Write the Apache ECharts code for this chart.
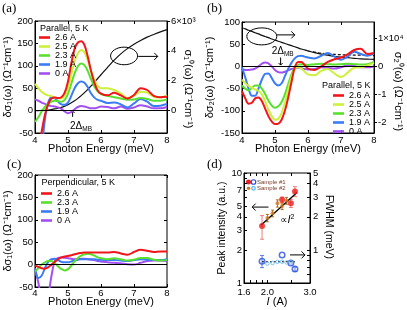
<!DOCTYPE html>
<html>
<head>
<meta charset="utf-8">
<script src="https://cdn.jsdelivr.net/npm/echarts@6.0.0/dist/echarts.min.js"></script>
<style>
html,body{margin:0;padding:0;background:#fff;}
#chart{width:407px;height:310px;}
</style>
</head>
<body>
<div id="chart"></div>
<script>
// ---------- data ----------
const energy = [4.0,4.1,4.2,4.3,4.4,4.5,4.6,4.7,4.8,4.9,5.0,5.1,5.2,5.3,5.4,5.5,5.6,5.7,5.8,5.9,6.0,6.2,6.4,6.6,6.8,7.0,7.2,7.4,7.6,7.8,8.0];
const currents = ['2.6 A','2.5 A','2.3 A','1.9 A','0 A'];

// (a) delta sigma1, parallel
const aRed    = [-130,-90,-48,-10,15,27,29,28,30,40,65,105,138,152,155,146,120,88,62,45,38,34,40,34,27,35,50,46,33,30,31];
const aLime   = [60,50,42,37,34,32,29,27,27,33,50,80,110,128,135,130,112,88,68,55,50,50,46,38,28,33,42,40,31,29,34];
const aGreen  = [-25,-15,-2,8,15,20,22,21,20,24,38,60,83,99,105,101,88,70,54,43,37,33,30,27,24,25,28,26,22,22,25];
const aBlue   = [-160,-130,-90,-20,18,30,28,20,14,13,18,33,50,61,65,62,52,38,29,24,22,17,18,14,7,16,26,20,10,11,15];
const aPurple = [25,22,18,15,12,10,9,7,4,-2,-6,-3,3,8,10,9,7,5,5,7,9,8,5,9,4,7,12,9,5,5,8];
const aSigma1 = [0,0,0.01,0.02,0.04,0.07,0.11,0.16,0.22,0.3,0.4,0.52,0.66,0.82,1.0,1.2,1.42,1.65,1.9,2.15,2.4,2.9,3.38,3.8,4.15,4.45,4.7,4.92,5.1,5.27,5.42]; // x10^3
const aRightLabels = [0,2,4,6];

// (b) delta sigma2, parallel
const bRed    = [-56,-72,-84,-82,-72,-70,-78,-95,-112,-124,-130,-129,-120,-100,-70,-35,-2,10,10,3,-5,-8,0,10,16,20,27,37,40,28,30];
const bLime   = [-30,-38,-44,-48,-52,-55,-63,-78,-97,-112,-120,-118,-105,-82,-52,-24,-6,-2,-5,-12,-18,-20,-10,-6,-16,-24,-14,-3,-2,2,8];
const bGreen  = [-43,-50,-54,-48,-43,-43,-50,-62,-77,-88,-93,-90,-80,-63,-40,-18,-2,4,5,4,3,5,6,5,4,5,6,5,4,5,10];
const bBlue   = [-2,-25,-50,-66,-66,-50,-30,-17,-16,-26,-38,-43,-38,-22,-5,8,18,23,24,22,20,18,24,30,22,15,22,33,28,24,30];
const bPurple = [-7,-8,-8,-7,-5,0,6,9,7,0,-8,-13,-14,-12,-9,-6,-4,-3,-4,-6,-7,-6,-2,-3,-5,-2,2,1,-2,-2,0];
const bSigma2 = [1.38,1.34,1.29,1.25,1.2,1.16,1.11,1.07,1.03,0.98,0.94,0.9,0.86,0.82,0.78,0.74,0.7,0.66,0.62,0.59,0.55,0.49,0.44,0.4,0.36,0.33,0.31,0.29,0.27,0.26,0.25]; // x10^4
const bDashE = [6.0,6.4,6.8,7.2,7.6,8.0];
const bDashSigma2 = [0.55,0.47,0.43,0.41,0.4,0.39];
const bRightLabels = [-2,-1,0,1];

// (c) delta sigma1, perpendicular
const cRed    = [-2,-5,-8,-9,-6,0,6,12,16,18,19,21,23,25,26,27,27,27,27,27,27,27,28,25,22,28,33,31,28,29,29];
const cGreen  = [-16,-8,0,5,8,8,3,-4,-10,-13,-10,-2,7,15,20,23,24,23,20,16,14,12,14,12,9,11,15,15,11,9,10];
const cBlue   = [-10,-30,-25,-8,6,12,13,10,6,5,5,7,9,11,12,12,12,12,12,11,11,10,10,9,8,10,12,11,10,10,12];
const cPurple = [-8,-40,-80,-95,-70,-25,8,15,16,15,14,13,12,12,13,13,12,11,10,8,7,5,4,3,1,0,4,8,9,9,8];

// (d) peak intensity and FWHM vs current
const dI1 = [1.9,2.3,2.5,2.6];
const dPeak1 = [3.3,5.7,5.3,6.8];
const dPeakErr1 = [0.8,0.35,0.45,0.7];
const dFwhm1 = [0.79,0.9,0.76,0.67];
const dFwhmErr1 = [0.1,0.0,0.0,0.03];
const dI2 = [2.0,2.1,2.2,2.3,2.4];
const dPeak2 = [3.9,4.3,5.3,5.0,5.6];
const dPeakErr2 = [0.3,0.3,0.4,0.35,0.4];
const dI2f = [2.0,2.1,2.2,2.3,2.4,2.5];
const dFwhm2 = [0.75,0.76,0.78,0.78,0.77,0.77];
const dFitI = [1.88,2.65];
const dFitPeak = [3.35,6.65];
const dAvgI = [1.9,2.6];
const dAvgFwhm = [0.78,0.78];
const dXTicks = [1.6,1.7,1.8,1.9,2.0,2.5,3.0];
const dXLabels = [1.6,2.0,3.0];
const dLeftTicks = [1,2,3,4,5,6,7,8,9,10];
const dLeftLabels = [1,2,3,4,5,7,10];
const dRightTicks = [0.5,0.6,0.7,0.8,0.9,1,2,3,4,5];
const dRightLabels = [1,2,3,4,5];

// ---------- styling ----------
const FONT = 'Liberation Sans';
const COL = {'2.6 A':'#f0161a','2.5 A':'#cdf03c','2.3 A':'#58e02e','1.9 A':'#3a7cf6','0 A':'#a250f2'};
const lg = Math.log10;

function curve(name, xi, yi, xs, ys, color, width, type) {
  return {
    type:'line', name, xAxisIndex:xi, yAxisIndex:yi,
    data: xs.map((x,i)=>[x, ys[i]]),
    showSymbol:false, symbol:'none', smooth:0.35, clip:true, silent:true,
    lineStyle:{color, width, type: type || 'solid'}, itemStyle:{color},
    emphasis:{disabled:true}, z: 3
  };
}
function zeroLine(s) {
  s.markLine = {silent:true, symbol:'none', label:{show:false},
    lineStyle:{color:'#000', width:1, type:'solid'}, data:[{yAxis:0}], animation:false};
  return s;
}
const tickStyle = {color:'#000', width:1};
const labelStyle = (margin) => ({fontFamily:FONT, fontSize:9.5, color:'#000', margin});
const nameStyle = {fontFamily:FONT, fontSize:11, color:'#000'};

function xBottom(grid, margin, gap) {
  return {type:'value', gridIndex:grid, position:'bottom', min:4, max:8, interval:1,
    name:'Photon Energy (meV)', nameLocation:'middle', nameGap:gap, nameTextStyle:nameStyle, nameMoveOverlap:false,
    axisLine:{show:true, onZero:false, lineStyle:tickStyle},
    axisTick:{show:true, inside:true, length:3, lineStyle:tickStyle},
    axisLabel:labelStyle(margin), splitLine:{show:false}};
}
function xTop(grid) {
  return {type:'value', gridIndex:grid, position:'top', min:4, max:8, interval:1,
    axisLine:{show:false, onZero:false}, axisTick:{show:true, inside:true, length:3, lineStyle:tickStyle},
    axisLabel:{show:false}, splitLine:{show:false}};
}
function yLeft(grid, min, max, name, gap) {
  return {type:'value', gridIndex:grid, position:'left', min, max, interval:50,
    name, nameLocation:'middle', nameGap:gap, nameTextStyle:nameStyle, nameMoveOverlap:false,
    axisLine:{show:true, onZero:false, lineStyle:tickStyle},
    axisTick:{show:true, inside:true, length:3, lineStyle:tickStyle},
    axisLabel:labelStyle(2), splitLine:{show:false}};
}

// ---------- grids ----------
const gridBase = {show:true, borderColor:'#000', borderWidth:1, backgroundColor:'transparent', containLabel:false, outerBoundsMode:'none'};
const grids = [
  Object.assign({left:35, top:21, width:132, height:112}, gridBase),
  Object.assign({left:242, top:22, width:132, height:111}, gridBase),
  Object.assign({left:35, top:175, width:132, height:112}, gridBase),
  Object.assign({left:244, top:173, width:66, height:110}, gridBase)
];

const xAxes = [
  xBottom(0, 2.5, 10), xTop(0),
  xBottom(1, 2.5, 10), xTop(1),
  xBottom(2, 1.5, 9), xTop(2),
  {type:'value', gridIndex:3, position:'bottom', min:lg(1.6), max:lg(3.0),
    name:'{i|I} (A)', nameLocation:'middle', nameGap:13, nameMoveOverlap:false,
    nameTextStyle:{fontFamily:FONT, fontSize:11, color:'#000', rich:{i:{fontFamily:FONT, fontSize:11, fontStyle:'italic', color:'#000'}}},
    axisLine:{show:true, onZero:false, lineStyle:tickStyle},
    axisTick:{show:true, inside:true, length:3, lineStyle:tickStyle, customValues:dXTicks.map(lg)},
    axisLabel:Object.assign(labelStyle(4), {customValues:dXLabels.map(lg), formatter:v=>Math.pow(10,v).toFixed(1)}),
    splitLine:{show:false}},
  {type:'value', gridIndex:3, position:'top', min:lg(1.6), max:lg(3.0),
    axisLine:{show:false, onZero:false},
    axisTick:{show:true, inside:true, length:3, lineStyle:tickStyle, customValues:dXTicks.map(lg)},
    axisLabel:{show:false}, splitLine:{show:false}}
];

const yAxes = [
  yLeft(0, -50, 200, 'δσ₁(ω) (Ω⁻¹cm⁻¹)', 22),
  {type:'value', gridIndex:0, position:'right', min:-1.5, max:6,
    axisLine:{show:true, onZero:false, lineStyle:tickStyle},
    axisTick:{show:true, inside:false, length:3, lineStyle:tickStyle, customValues:aRightLabels},
    axisLabel:Object.assign(labelStyle(4), {customValues:aRightLabels, formatter:v=> v===6 ? '6×10³' : String(v)}),
    splitLine:{show:false}},
  yLeft(1, -150, 100, 'δσ₂(ω) (Ω⁻¹cm⁻¹)', 27),
  {type:'value', gridIndex:1, position:'right', min:-150*0.01586, max:100*0.01586,
    axisLine:{show:true, onZero:false, lineStyle:tickStyle},
    axisTick:{show:true, inside:false, length:3, lineStyle:tickStyle, customValues:bRightLabels},
    axisLabel:Object.assign(labelStyle(4), {customValues:bRightLabels, formatter:v=> v===1 ? '1×10⁴' : String(v)}),
    splitLine:{show:false}},
  yLeft(2, -50, 200, 'δσ₁(ω) (Ω⁻¹cm⁻¹)', 22),
  {type:'value', gridIndex:2, position:'right', min:-50, max:200, interval:50,
    axisLine:{show:false, onZero:false}, axisTick:{show:true, inside:true, length:3, lineStyle:tickStyle},
    axisLabel:{show:false}, splitLine:{show:false}},
  {type:'value', gridIndex:3, position:'left', min:0, max:1,
    name:'Peak intensity (a.u.)', nameLocation:'middle', nameGap:16, nameMoveOverlap:false,
    nameTextStyle:Object.assign({}, nameStyle, {fontSize:10.5}),
    axisLine:{show:true, onZero:false, lineStyle:tickStyle},
    axisTick:{show:true, inside:true, length:3, lineStyle:tickStyle, customValues:dLeftTicks.map(lg)},
    axisLabel:Object.assign(labelStyle(2), {customValues:dLeftLabels.map(lg), formatter:v=>String(Math.round(Math.pow(10,v)))}),
    splitLine:{show:false}},
  {type:'value', gridIndex:3, position:'right', min:lg(0.5), max:lg(5),
    axisLine:{show:true, onZero:false, lineStyle:tickStyle},
    axisTick:{show:true, inside:true, length:3, lineStyle:tickStyle, customValues:dRightTicks.map(lg)},
    axisLabel:Object.assign(labelStyle(3), {customValues:dRightLabels.map(lg), formatter:v=>String(Math.round(Math.pow(10,v)))}),
    splitLine:{show:false}}
];

// ---------- series ----------
const series = [];
// (a)
series.push(zeroLine(curve('σ1 normal', 0, 1, energy, aSigma1, '#111', 1.2)));
series.push(curve('0 A', 0, 0, energy, aPurple, COL['0 A'], 2));
series.push(curve('1.9 A', 0, 0, energy, aBlue, COL['1.9 A'], 2));
series.push(curve('2.3 A', 0, 0, energy, aGreen, COL['2.3 A'], 2));
series.push(curve('2.5 A', 0, 0, energy, aLime, COL['2.5 A'], 2));
series.push(curve('2.6 A', 0, 0, energy, aRed, COL['2.6 A'], 2));
// (b)
series.push(zeroLine(curve('σ2 normal', 2, 3, energy, bSigma2, '#111', 1.2)));
series.push(curve('σ2 model', 2, 3, bDashE, bDashSigma2, '#111', 1.2, [3,2]));
series.push(curve('0 A', 2, 2, energy, bPurple, COL['0 A'], 2));
series.push(curve('1.9 A', 2, 2, energy, bBlue, COL['1.9 A'], 2));
series.push(curve('2.3 A', 2, 2, energy, bGreen, COL['2.3 A'], 2));
series.push(curve('2.5 A', 2, 2, energy, bLime, COL['2.5 A'], 2));
series.push(curve('2.6 A', 2, 2, energy, bRed, COL['2.6 A'], 2));
// (c)
series.push(zeroLine(curve('0 A', 4, 4, energy, cPurple, COL['0 A'], 2)));
series.push(curve('1.9 A', 4, 4, energy, cBlue, COL['1.9 A'], 2));
series.push(curve('2.3 A', 4, 4, energy, cGreen, COL['2.3 A'], 2));
series.push(curve('2.6 A', 4, 4, energy, cRed, COL['2.6 A'], 2));

// (d)
function errBars(name, yi, xs, ys, es, color, capW) {
  return {type:'custom', name, xAxisIndex:6, yAxisIndex:yi, silent:true, z:2,
    data: xs.map((x,i)=>[lg(x), lg(ys[i]-es[i]), lg(ys[i]+es[i])]).filter((d,i)=>es[i]>0),
    encode:{x:0, y:[1,2]},
    renderItem(params, api) {
      const lo = api.coord([api.value(0), api.value(1)]);
      const hi = api.coord([api.value(0), api.value(2)]);
      const st = {stroke:color, lineWidth:1, fill:null};
      return {type:'group', children:[
        {type:'line', shape:{x1:lo[0], y1:lo[1], x2:hi[0], y2:hi[1]}, style:st},
        {type:'line', shape:{x1:lo[0]-capW, y1:lo[1], x2:lo[0]+capW, y2:lo[1]}, style:st},
        {type:'line', shape:{x1:hi[0]-capW, y1:hi[1], x2:hi[0]+capW, y2:hi[1]}, style:st}
      ]};
    }};
}
function pts(name, yi, xs, ys, symbolSize, fill, stroke, bw) {
  return {type:'scatter', name, xAxisIndex:6, yAxisIndex:yi, silent:true, z:4,
    data: xs.map((x,i)=>[lg(x), lg(ys[i])]), symbol:'circle', symbolSize,
    itemStyle:{color:fill, borderColor:stroke, borderWidth:bw}};
}
series.push(errBars('err1', 6, dI1, dPeak1, dPeakErr1, '#f07a7a', 2));
series.push(errBars('err2', 6, dI2, dPeak2, dPeakErr2, '#b0701e', 1.5));
series.push(errBars('errf1', 7, dI1, dFwhm1, dFwhmErr1, '#5a7cf0', 2));
series.push({type:'line', name:'fit', xAxisIndex:6, yAxisIndex:6, silent:true, z:3, symbol:'none',
  data: dFitI.map((x,i)=>[lg(x), lg(dFitPeak[i])]), lineStyle:{color:'#000', width:1.3}});
series.push({type:'line', name:'avg', xAxisIndex:6, yAxisIndex:7, silent:true, z:3, symbol:'none',
  data: dAvgI.map((x,i)=>[lg(x), lg(dAvgFwhm[i])]), lineStyle:{color:'#000', width:1, type:[2,2]}});
series.push(pts('Sample #1', 6, dI1, dPeak1, 6, '#ee1c1c', '#ee1c1c', 0));
series.push(pts('Sample #2', 6, dI2, dPeak2, 4, '#cf7a1c', '#cf7a1c', 0));
series.push(pts('FWHM #1', 7, dI1, dFwhm1, 5.5, 'rgba(255,255,255,0)', '#2a4fe0', 1.5));
series.push(pts('FWHM #2', 7, dI2f, dFwhm2, 3.5, 'rgba(255,255,255,0)', '#5ab4f0', 1));

// ---------- legends & titles ----------
function legend(left, top, data, rowH) {
  return {left, top, orient:'vertical', data, icon:'rect', itemWidth:11, itemHeight:2.6, itemGap:0,
    padding:0, selectedMode:false,
    textStyle:{fontFamily:FONT, fontSize:9, color:'#000', lineHeight:rowH}};
}
function ttl(text, left, top, serif) {
  return {text, left, top, padding:0,
    textStyle: serif ? {fontFamily:'Liberation Serif', fontSize:13, fontWeight:'normal', color:'#000'}
                     : {fontFamily:FONT, fontSize:9, fontWeight:'normal', color:'#000', lineHeight:10}};
}

const option = {
  animation:false,
  backgroundColor:'#fff',
  title:[
    ttl('(a)', 2, 2, true), ttl('(b)', 207, 2, true), ttl('(c)', 7, 158, true), ttl('(d)', 207, 158, true),
    ttl('Parallel, 5 K', 40, 24), ttl('Parallel, 5 K', 322, 80.5), ttl('Perpendicular, 5 K', 41.5, 178)
  ],
  legend:[
    legend(39, 33, currents, 8.5),
    legend(333, 91, currents, 8.2),
    legend(41, 189, ['2.6 A','2.3 A','1.9 A','0 A'], 9)
  ],
  grid: grids,
  xAxis: xAxes,
  yAxis: yAxes,
  series
};

const chart = echarts.init(document.getElementById('chart'), null, {renderer:'canvas'});
chart.setOption(option);

// ---------- annotations (placed in data coordinates) ----------
const P = (xi, yi, v) => chart.convertToPixel({xAxisIndex:xi, yAxisIndex:yi}, v);
const g = [];
const stroke = {stroke:'#000', fill:null, lineWidth:1};
function arrow(p1, p2, s) {
  const dx = p2[0]-p1[0], dy = p2[1]-p1[1], L = Math.hypot(dx, dy), ux = dx/L, uy = dy/L;
  const bx = p2[0]-ux*s, by = p2[1]-uy*s;
  g.push({type:'line', silent:true, shape:{x1:p1[0], y1:p1[1], x2:p2[0], y2:p2[1]}, style:stroke});
  g.push({type:'polyline', silent:true, shape:{points:[[bx-uy*s, by+ux*s],[p2[0],p2[1]],[bx+uy*s, by-ux*s]]}, style:stroke});
}
function ellipse(c, rx, ry) {
  g.push({type:'ellipse', silent:true, shape:{cx:c[0], cy:c[1], rx, ry}, style:stroke});
}
function deltaText(p) {
  g.push({type:'text', silent:true, x:p[0], y:p[1], style:{
    text:'{a|2Δ}{b|MB}', align:'left', verticalAlign:'middle',
    rich:{a:{fontFamily:FONT, fontSize:10, fill:'#000', lineHeight:12},
          b:{fontFamily:FONT, fontSize:6.5, fill:'#000', lineHeight:7, verticalAlign:'bottom'}}}});
}
// right-axis names, reading top to bottom
function rightName(gi, gap, dy, text, fs) {
  const gr = grids[gi];
  g.push({type:'text', silent:true, x:gr.left + gr.width + gap, y:gr.top + gr.height/2 + dy, rotation:-Math.PI/2,
    style:{text, fontFamily:FONT, fontSize:fs, fill:'#000', align:'center', verticalAlign:'middle'}});
}
rightName(0, 21, 12, 'σ₁⁰(ω) (Ω⁻¹cm⁻¹)', 11);
rightName(1, 24.5, 14, 'σ₂⁰(ω) (Ω⁻¹cm⁻¹)', 11);
rightName(3, 18.5, -1, 'FWHM (meV)', 10.5);
// (a)
ellipse(P(0,0,[6.70,122]), 13.5, 8.8);
arrow(P(0,0,[7.13,121]), P(0,0,[7.72,121]), 3.5);
arrow(P(0,0,[5.14,-14]), P(0,0,[5.14,-1]), 2);
deltaText(P(0,0,[5.06,-35]));
// (b)
ellipse(P(2,2,[4.6,67.6]), 15, 8.5);
arrow(P(2,2,[5.05,71]), P(2,2,[5.6,71]), 3.5);
arrow(P(2,2,[5.17,20]), P(2,2,[5.17,3]), 2);
deltaText(P(2,2,[4.9,33]));
// (d)
arrow(P(6,6,[lg(2.02), lg(4.9)]), P(6,6,[lg(1.73), lg(4.9)]), 3.5);
arrow(P(6,7,[lg(2.48), lg(0.9)]), P(6,7,[lg(2.86), lg(0.9)]), 3.5);
const tp = P(6,6,[lg(2.26), lg(3.74)]);
g.push({type:'text', silent:true, x:tp[0], y:tp[1], style:{
  text:'{a|∝}{i|I}{s|2}', align:'left', verticalAlign:'middle',
  rich:{a:{fontFamily:'DejaVu Sans', fontSize:10, fill:'#000', lineHeight:12},
        i:{fontFamily:FONT, fontSize:11, fontStyle:'italic', fill:'#000', lineHeight:12},
        s:{fontFamily:FONT, fontSize:7, fill:'#000', lineHeight:7, verticalAlign:'top'}}}});
// (d) legend
const gl = grids[3];
const lx = gl.left + 4.5, ly = gl.top + 9;
[[ '#ee1c1c', '#2a4fe0', 'Sample #1', 5, 4.5], ['#cf7a1c', '#5ab4f0', 'Sample #2', 3.5, 3.5]].forEach((r, k) => {
  const y = ly + k*6.3;
  g.push({type:'circle', silent:true, shape:{cx:lx, cy:y, r:r[3]/2}, style:{fill:r[0]}});
  g.push({type:'circle', silent:true, shape:{cx:lx+5, cy:y, r:r[4]/2}, style:{fill:null, stroke:r[1], lineWidth:1.2}});
  g.push({type:'text', silent:true, x:lx+8.5, y:y, style:{text:r[2], fontFamily:FONT, fontSize:6, fill:'#7a3a2a', align:'left', verticalAlign:'middle'}});
});
chart.setOption({graphic: g});
</script>
</body>
</html>
